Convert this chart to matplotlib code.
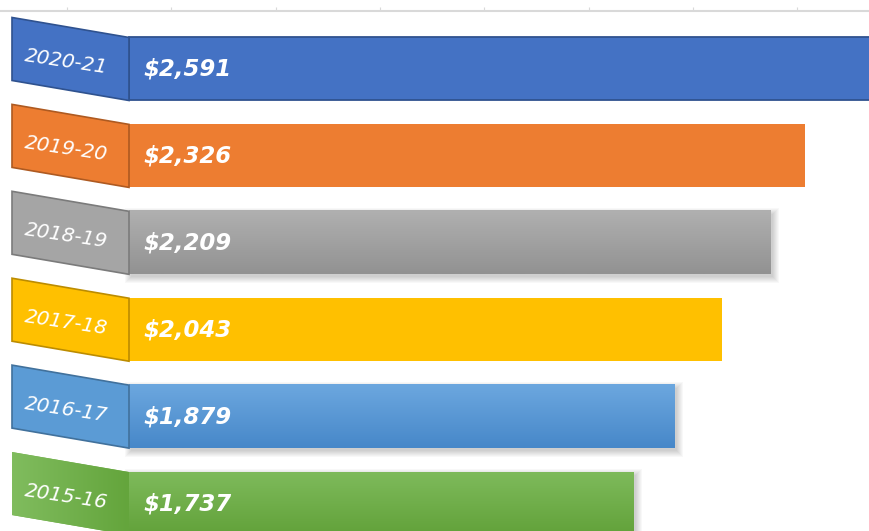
import numpy as np
import matplotlib.pyplot as plt
from matplotlib.patches import Polygon, Rectangle
from matplotlib.colors import LinearSegmentedColormap

# data, top to bottom
years = ['2020-21', '2019-20', '2018-19', '2017-18', '2016-17', '2015-16']
amounts = [2591, 2326, 2209, 2043, 1879, 1737]
value_labels = ['$2,591', '$2,326', '$2,209', '$2,043', '$1,879', '$1,737']

# styles per bar: fill, edge of tab, edge of bar, gradient (top, bottom) or None, shadow
fills = ['#4472C4', '#ED7D31', '#A5A5A5', '#FFC000', '#5B9BD5', '#70AD47']
tab_edges = ['#2F528F', '#AE5A21', '#7B7B7B', '#BC8C00', '#41719C', None]
bar_edges = ['#2F528F', None, None, None, None, None]
gradients = [None, None, ('#B0B0B0', '#929292'), None,
             ('#6CA7DF', '#4788C9'), ('#7EBA5B', '#62A23A')]
shadows = [False, False, True, False, True, True]

px = 1 / 0.2905      # one pixel in value units
py = 1 / 86.9        # one pixel in category units
bar_h = 0.725
tab_left = -117 * px
tab_rise = 20 * py

fig = plt.figure(figsize=(8.7, 5.31), dpi=100)
ax = fig.add_axes([0, 0, 1, 1 - 10.5 / 531])

ypos = np.arange(len(years))
bars = ax.barh(ypos, amounts, height=bar_h, color=fills, zorder=3)

for i, b in enumerate(bars):
    x0, y0, w, h = b.get_x(), b.get_y(), b.get_width(), b.get_height()
    if bar_edges[i]:
        b.set_edgecolor(bar_edges[i])
        b.set_linewidth(1.3)
    else:
        b.set_linewidth(0)

    # soft shadow to the lower right
    if shadows[i]:
        for k in range(7):
            ax.add_patch(Rectangle((x0 + (2 - k) * px, y0 + (3 - k) * py),
                                   w + 2 * k * px, h + 2 * k * py,
                                   facecolor='black', edgecolor='none',
                                   alpha=0.028, zorder=2))

    # vertical gradient fill
    if gradients[i]:
        cmap = LinearSegmentedColormap.from_list('g%d' % i, list(gradients[i]))
        ax.imshow(np.linspace(0, 1, 64).reshape(-1, 1), cmap=cmap, aspect='auto',
                  extent=(x0, x0 + w, y0 + h, y0), zorder=3.5, interpolation='bilinear')

    # slanted tab on the left
    tab = Polygon([(tab_left, y0 - tab_rise), (0, y0), (0, y0 + h),
                   (tab_left, y0 + h - tab_rise)], closed=True,
                  facecolor=fills[i], edgecolor=tab_edges[i] or 'none',
                  linewidth=1.2, zorder=4)
    ax.add_patch(tab)
    if i == 5:
        cmap = LinearSegmentedColormap.from_list('tabg', ['#80BC5E', '#64A53C'])
        im = ax.imshow(np.linspace(0, 1, 64).reshape(1, -1), cmap=cmap, aspect='auto',
                       extent=(tab_left, 0, y0 + h, y0 - tab_rise), zorder=4.5,
                       interpolation='bilinear')
        im.set_clip_path(tab)

    ax.text(tab_left / 2 - 4 * px, ypos[i] - 0.08, years[i], color='white',
            fontsize=14.5, style='italic', rotation=-8.5, ha='center', va='center',
            rotation_mode='anchor', zorder=6)
    ax.text(14 * px, ypos[i], value_labels[i], color='white', fontsize=16.5,
            fontweight='bold', style='italic', ha='left', va='center', zorder=6)

# axis: only a light top line with small ticks
ax.set_xlim(-129 * px, 741 * px)
ax.set_ylim(5.316, -0.673)
for s in ['left', 'right', 'bottom']:
    ax.spines[s].set_visible(False)
ax.spines['top'].set_color('#D9D9D9')
ax.spines['top'].set_linewidth(1.5)
ax.xaxis.tick_top()
ax.set_xticks(np.arange(-213, 2551, 359))
ax.set_xticklabels([])
ax.set_yticks([])
ax.tick_params(axis='x', length=3, color='#D9D9D9', direction='out')

fig.savefig('out.png', dpi=100)
